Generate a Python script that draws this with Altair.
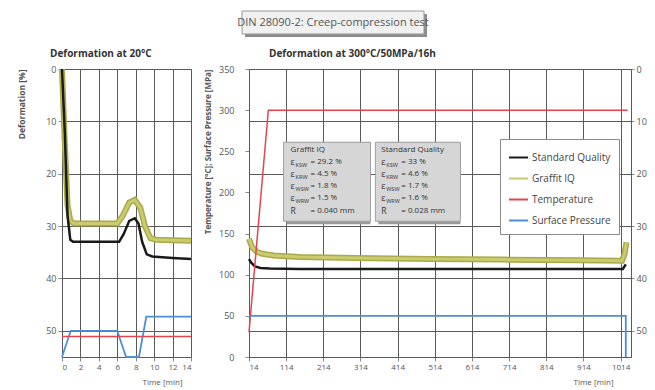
import altair as alt
import pandas as pd

FONT = "Open Sans"

# ---------------- data: left panel (20 °C) ----------------
l_sq_t = [0, 0.3, 0.6, 0.9, 1.2, 6.2, 6.7, 7.3, 7.9, 8.3, 8.7, 9.2, 9.8, 12, 14]
l_sq_d = [0, 12, 28, 32.6, 33, 33, 31.5, 29, 28.5, 29.5, 33, 35.4, 35.8, 36.1, 36.3]
l_gr_t = [0, 0.3, 0.6, 0.9, 1.3, 6.0, 6.6, 7.3, 7.9, 8.5, 9.0, 9.6, 10.2, 12, 14]
l_gr_d = [0, 14, 26, 29, 29.5, 29.5, 28, 25.5, 25, 26.5, 30, 32.3, 32.6, 32.7, 32.8]
l_pr_t = [0, 0.95, 6.0, 6.95, 8.35, 9.15, 14]
l_pr_d = [55, 50, 50, 55, 55, 47.3, 47.3]
l_te_t = [0, 14]
l_te_d = [51.1, 51.1]

# ---------------- data: right panel (300 °C) ----------------
r_sq_t = [14, 20, 30, 45, 70, 150, 300, 500, 700, 900, 1020, 1028]
r_sq_d = [36.3, 37.0, 37.7, 38.0, 38.1, 38.2, 38.2, 38.2, 38.2, 38.2, 38.2, 37.3]
r_gr_t = [14, 22, 35, 50, 80, 150, 300, 500, 700, 900, 1018, 1024, 1030]
r_gr_d = [32.4, 34.0, 34.9, 35.3, 35.6, 35.9, 36.1, 36.3, 36.4, 36.5, 36.6, 35.5, 33.1]
r_te_t = [14, 66, 1033]
r_te_v = [30, 300, 300]
r_pr_t = [14, 1028, 1028]
r_pr_v = [50, 50, 0]

series = ["Standard Quality", "Graffit IQ", "Temperature", "Surface Pressure"]
colors = ["#1a1a1a", "#c9cb6e", "#e2454f", "#4b8fd6"]
widths = [2.5, 3, 1.5, 1.8]

main_title = ["DIN 28090-2: Creep-compression test"]
panel_titles = ["Deformation at 20°C", "Deformation at 300°C/50MPa/16h"]

left_x_ticks = [0, 2, 4, 6, 8, 10, 12, 14]
right_x_ticks = [14, 114, 214, 314, 414, 514, 614, 714, 814, 914, 1014]
defo_ticks = [0, 10, 20, 30, 40, 50]
temp_ticks = [0, 50, 100, 150, 200, 250, 300, 350]

# info boxes (position in time / temperature units)
box_name = ["Graffit IQ", "Standard Quality"]
box_x1 = [107, 354]
box_x2 = [341, 583]
box_y1 = [165, 165]
box_y2 = [261, 261]
box_tx = [126, 370]
row_y = [237, 222, 208, 193, 177]
row_sym = ["ε", "ε", "ε", "ε", "R"]
row_sub = ["KSW", "KRW", "WSW", "WRW", ""]
gr_vals = ["= 29.2 %", "= 4.5 %", "= 1.8 %", "= 1.5 %", "= 0.040 mm"]
sq_vals = ["= 33 %", "= 4.6 %", "= 1.7 %", "= 1.6 %", "= 0.028 mm"]
head_y = 251.6

GRID = "#5a5a5a"
LAB = "#555555"
GR_EDGE = "#a9aa4c"
RW = 382  # right plot width


def frame(t, v, name):
    return pd.DataFrame({"t": t, "v": v, "series": name})


def panel_title(text, dx):
    return alt.Chart(pd.DataFrame({"t": [text]})).mark_text(
        align="left", baseline="middle", fontSize=10, fontWeight="bold", color="#333",
        font=FONT).encode(x=alt.value(dx), y=alt.value(-15), text="t:N")


# ---------------- left panel ----------------
left_df = pd.concat([
    frame(l_te_t, l_te_d, "Temperature"),
    frame(l_pr_t, l_pr_d, "Surface Pressure"),
    frame(l_gr_t, l_gr_d, "Graffit IQ"),
    frame(l_sq_t, l_sq_d, "Standard Quality"),
])

lx = alt.X("t:Q", scale=alt.Scale(domain=[0, 14], nice=False, zero=False),
           axis=alt.Axis(values=left_x_ticks, grid=True, gridColor=GRID, title="Time [min]",
                         titleX=120, titleAlign="right", titleY=21, format="d",
                         labelFontSize=8, labelOverlap=False,
                         titleFontSize=8, titleFontWeight="normal", titleColor=LAB))
ly = alt.Y("v:Q", scale=alt.Scale(domain=[0, 55], reverse=True, nice=False),
           axis=alt.Axis(values=defo_ticks, grid=True, gridColor=GRID, title="Deformation [%]",
                         titleAnchor="start", titleAlign="right", titlePadding=19,
                         titleFontSize=8.5))

left_base = alt.Chart(left_df)
left_layers = []
for name, col, w in zip(series[::-1], colors[::-1], widths[::-1]):
    d = left_base.transform_filter(alt.datum.series == name)
    if name == "Graffit IQ":
        left_layers.append(d.mark_line(color=GR_EDGE, strokeWidth=6).encode(x=lx, y=ly, order="t:Q"))
    left_layers.append(d.mark_line(color=col, strokeWidth=w).encode(x=lx, y=ly, order="t:Q"))
left_layers.append(panel_title(panel_titles[0], -12))

left = alt.layer(*left_layers).properties(width=129, height=288)

# ---------------- right panel ----------------
tp_df = pd.concat([
    frame(r_te_t, r_te_v, "Temperature"),
    frame(r_pr_t, r_pr_v, "Surface Pressure"),
])
def_df = pd.concat([
    frame(r_gr_t, r_gr_d, "Graffit IQ"),
    frame(r_sq_t, r_sq_d, "Standard Quality"),
])
box_df = pd.DataFrame({"name": box_name, "t": box_x1, "t2": box_x2, "v": box_y1, "v2": box_y2})
head_df = pd.DataFrame({"name": box_name, "t": box_tx, "v": [head_y, head_y]})
rows = []
for bname, tx, vals in zip(box_name, box_tx, [gr_vals, sq_vals]):
    for yv, s, sub, val in zip(row_y, row_sym, row_sub, vals):
        rows.append({"name": bname, "t": tx, "v": yv, "sym": s, "sub": sub, "val": val})
txt_df = pd.DataFrame(rows)

rx_scale = alt.Scale(domain=[14, 1042], nice=False, zero=False)
rx_axis = alt.Axis(values=right_x_ticks, grid=True, gridColor=GRID, title="Time [min]",
                   titleX=364, titleAlign="right", titleY=21, format="d",
                   labelFontSize=8, labelOverlap=False,
                   titleFontSize=8, titleFontWeight="normal", titleColor=LAB)
ty_scale = alt.Scale(domain=[0, 350], nice=False)
ty_axis = alt.Axis(values=temp_ticks, grid=False, orient="left", labelPadding=11,
                   title="Temperature [°C]; Surface Pressure [MPa]", titleAnchor="end",
                   titlePadding=6, titleFontSize=8)
RX = alt.X("t:Q", scale=rx_scale, axis=rx_axis)
TY = alt.Y("v:Q", scale=ty_scale, axis=ty_axis)

color_scale = alt.Scale(domain=series, range=colors)
legend = alt.Legend(title=None, orient="none", legendX=251, legendY=70,
                    fillColor="white", strokeColor="#8a8a8a", padding=8,
                    symbolType="stroke", symbolSize=361, symbolStrokeWidth=2,
                    labelFontSize=10, labelColor="#444", rowPadding=5, labelOffset=3,
                    labelFont=FONT)


def series_line(df, name, width, yenc):
    return alt.Chart(df).transform_filter(alt.datum.series == name).mark_line(
        strokeWidth=width).encode(
        x=RX, y=yenc,
        color=alt.Color("series:N", scale=color_scale, legend=legend),
        order="t:Q")


te_line = series_line(tp_df, "Temperature", widths[2], TY)
pr_line = series_line(tp_df, "Surface Pressure", widths[3], TY)

shadow = alt.Chart(box_df).mark_rect(fill="#9a9a9a", xOffset=3, yOffset=3).encode(
    x=RX, x2="t2:Q", y=TY, y2="v2:Q")
boxes = alt.Chart(box_df).mark_rect(fill="#d6d6d6", stroke="#a0a0a0", strokeWidth=1).encode(
    x=RX, x2="t2:Q", y=TY, y2="v2:Q")
heads = alt.Chart(head_df).mark_text(align="left", baseline="middle", fontSize=8, color="#333",
                                     font=FONT).encode(x=RX, y=TY, text="name:N")
syms = alt.Chart(txt_df).mark_text(align="left", baseline="middle", fontSize=8.5, color="#333",
                                   font=FONT).encode(x=RX, y=TY, text="sym:N")
subs = alt.Chart(txt_df).mark_text(align="left", baseline="middle", fontSize=5.5, color="#333",
                                   dx=5, dy=3, font=FONT).encode(x=RX, y=TY, text="sub:N")
vals = alt.Chart(txt_df).mark_text(align="left", baseline="middle", fontSize=8, color="#333",
                                   dx=20, font=FONT).encode(x=RX, y=TY, text="val:N")

# main title box (decoration above the right panel)
title_df = pd.DataFrame({"t": main_title})
t_shadow = alt.Chart(title_df).mark_rect(fill="#8c8c8c").encode(
    x=alt.value(-4), x2=alt.value(178), y=alt.value(-55), y2=alt.value(-32))
t_box = alt.Chart(title_df).mark_rect(fill="#f1f1f1", stroke="#9a9a9a", strokeWidth=1).encode(
    x=alt.value(-7), x2=alt.value(175), y=alt.value(-58), y2=alt.value(-35))
t_text = alt.Chart(title_df).mark_text(fontSize=11, color="#555", font=FONT,
                                       baseline="middle").encode(
    x=alt.value(84), y=alt.value(-46.5), text="t:N")

left_group = alt.layer(te_line, pr_line, shadow, boxes, heads, syms, subs, vals,
                       panel_title(panel_titles[1], 20), t_shadow, t_box, t_text)

dy_scale = alt.Scale(domain=[0, 55], reverse=True, nice=False)
dy_axis = alt.Axis(values=defo_ticks, grid=True, gridColor=GRID, orient="right", title=None,
                   labelPadding=2, tickSize=3)
DY = alt.Y("v:Q", scale=dy_scale, axis=dy_axis)

gr_under = alt.Chart(def_df).transform_filter(alt.datum.series == "Graffit IQ").mark_line(
    color=GR_EDGE, strokeWidth=6).encode(x=RX, y=DY, order="t:Q")
gr_line = series_line(def_df, "Graffit IQ", widths[1], DY)
sq_line = series_line(def_df, "Standard Quality", widths[0], DY)

right_group = alt.layer(gr_under, gr_line, sq_line)

right = alt.layer(right_group, left_group).resolve_scale(y="independent").properties(
    width=RW, height=288)

chart = alt.hconcat(left, right, spacing=0).resolve_scale(color="independent").resolve_legend(
    color="independent").properties(
    padding={"left": 9, "top": 2, "right": 0, "bottom": 0}
).configure_axis(
    labelFont=FONT, titleFont=FONT, labelFontSize=9, labelColor=LAB, titleColor=LAB,
    tickColor="#888", tickSize=4, domainColor=GRID, labelPadding=2, titleFontWeight="bold",
).configure_view(stroke=GRID)

chart.save("out.html", embed_options={"renderer": "svg", "actions": False})
